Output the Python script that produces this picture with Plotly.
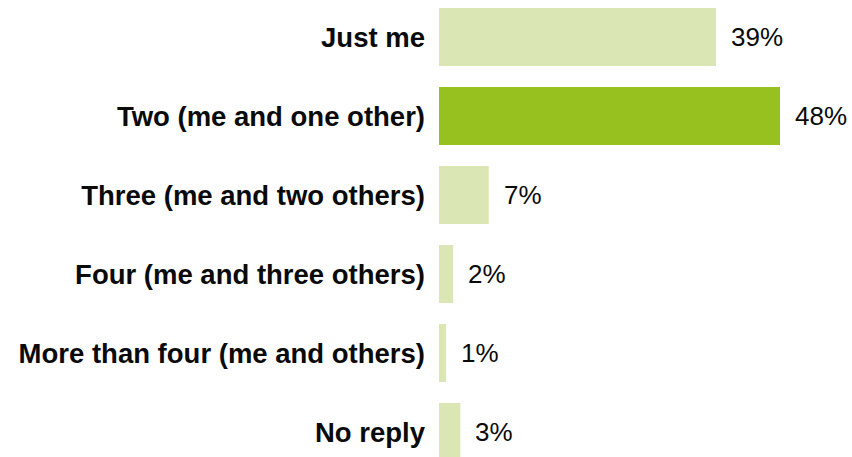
import plotly.graph_objects as go

categories = [
    "Just me",
    "Two (me and one other)",
    "Three (me and two others)",
    "Four (me and three others)",
    "More than four (me and others)",
    "No reply",
]
values = [39, 48, 7, 2, 1, 3]
highlight = "Two (me and one other)"

LIGHT = "#dae6b3"
DARK = "#96c11f"
colors = [DARK if c == highlight else LIGHT for c in categories]
idx = list(range(len(categories)))

fig = go.Figure(
    go.Bar(
        x=values,
        y=idx,
        orientation="h",
        marker=dict(color=colors, line=dict(width=0)),
        width=0.734,
        hoverinfo="skip",
    )
)

for i, v in zip(idx, values):
    fig.add_annotation(
        x=v, y=i, text=f"{v}%", showarrow=False,
        xanchor="left", yanchor="middle", xshift=13,
        font=dict(family="Liberation Sans, Arial, sans-serif", size=26, color="#0a0a0a"),
    )

fig.update_layout(
    width=852, height=457,
    margin=dict(l=439, r=0, t=0, b=0),
    paper_bgcolor="white", plot_bgcolor="white",
    showlegend=False,
    xaxis=dict(range=[0, 413 / 7.104], visible=False, fixedrange=True),
    yaxis=dict(
        range=[5.316, -0.468],
        tickmode="array", tickvals=idx, ticktext=categories,
        showgrid=False, zeroline=False, showline=False, ticks="",
        ticklabelstandoff=13,
        tickfont=dict(family="Liberation Sans, Arial, sans-serif", size=27.5, color="#0a0a0a", weight="bold"),
    ),
)

fig.write_html("out.html")
